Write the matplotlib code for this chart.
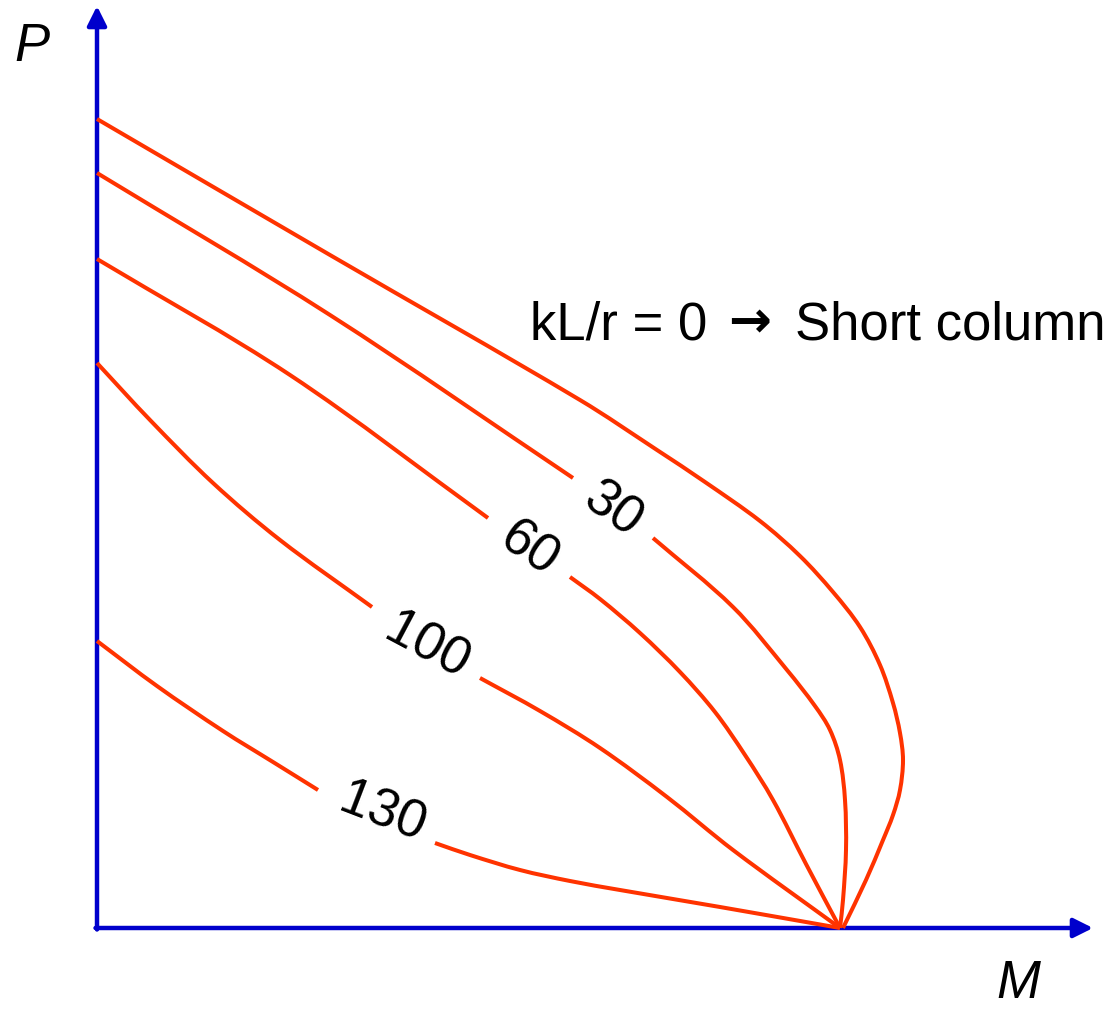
import numpy as np
import matplotlib
matplotlib.use('Agg')
import matplotlib.pyplot as plt
from matplotlib.path import Path
from matplotlib.patches import PathPatch

# Interaction curves (M, P) for several slenderness ratios kL/r.
# NaN marks the break in a line where its label sits.
nan = np.nan
M_0 = [0, 233, 483, 560, 608, 663, 703, 736, 763, 783, 796, 803, 806, 803,
       796, 786, 769, 746]
P_0 = [809, 673, 528, 478, 446, 407, 372, 336, 301, 263, 225, 195, 168, 138,
       113, 88, 48, 0]

M_30 = [0, 233, 476, nan, 556, 636, 690, 718, 733, 743, 748, 749, 746, 743]
P_30 = [755, 613, 450, nan, 390, 321, 258, 222, 198, 168, 128, 78, 28, 0]

M_60 = [0, 193, 391, nan, 473, 503, 543, 583, 618, 648, 676, 709, 743]
P_60 = [669, 553, 410, nan, 351, 329, 295, 256, 216, 173, 128, 64, 0]

M_100 = [0, 53, 116, 183, 275, nan, 383, 443, 503, 570, 636, 743]
P_100 = [565, 508, 445, 388, 321, nan, 250, 217, 180, 131, 78, 0]

M_130 = [0, 60, 126, 176, 221, nan, 338, 373, 423, 473, 523, 623, 743]
P_130 = [287, 242, 197, 166, 138, nan, 85, 73, 58, 47, 38, 21, 0]

curves = [(M_0, P_0), (M_30, P_30), (M_60, P_60), (M_100, P_100), (M_130, P_130)]

# inline labels: text, position, angle
labels = ['30', '60', '100', '130']
label_M = [515, 432, 330, 285]
label_P = [418, 379, 281, 115]
label_rot = [-35, -34, -28, -21]

red = '#ff3300'
blue = '#0000cc'
font = ['Liberation Sans', 'DejaVu Sans']


def unit(v):
    return v / np.hypot(*v)


def smooth_paths(m, p):
    """Cubic bezier path through the points, split at NaN."""
    pts = np.column_stack([m, p]).astype(float)
    breaks = np.where(np.isnan(pts[:, 0]))[0]
    paths = []
    for seg in np.split(pts, breaks):
        seg = seg[~np.isnan(seg[:, 0])]
        n = len(seg)
        if n < 2:
            continue
        # tangent direction at each point
        tan = [unit(seg[1] - seg[0])]
        for i in range(1, n - 1):
            tan.append(unit(seg[i + 1] - seg[i - 1]))
        tan.append(unit(seg[-1] - seg[-2]))
        verts = [seg[0]]
        codes = [Path.MOVETO]
        for i in range(n - 1):
            L = np.hypot(*(seg[i + 1] - seg[i])) / 3
            verts += [seg[i] + tan[i] * L, seg[i + 1] - tan[i + 1] * L, seg[i + 1]]
            codes += [Path.CURVE4] * 3
        paths.append(Path(verts, codes))
    return paths


fig = plt.figure(figsize=(11.1, 10.09), dpi=100)
ax = fig.add_axes([0, 0, 1, 1])
ax.set_xlim(-97, 1013)
ax.set_ylim(-81, 928)
ax.axis('off')

# axes with arrow heads
arrow = dict(arrowstyle='-|>,head_length=0.4,head_width=0.2', mutation_scale=29,
             lw=3.2, color=blue, shrinkA=0, shrinkB=0)
ax.annotate('', xy=(0, 922), xytext=(0, -1.5), arrowprops=arrow)
ax.annotate('', xy=(996, 0), xytext=(-1.5, 0), arrowprops=arrow)

for m, p in curves:
    for path in smooth_paths(m, p):
        ax.add_patch(PathPatch(path, fill=False, edgecolor=red, lw=2.9,
                               capstyle='butt', zorder=3))

for txt, m, p, r in zip(labels, label_M, label_P, label_rot):
    ax.text(m, p, txt, fontsize=38, family=font, rotation=r,
            rotation_mode='anchor', ha='center', va='center')

ax.text(433, 589, 'kL/r = 0', fontsize=38, family=font, ha='left', va='baseline')
ax.text(653, 605, '\u2192', fontsize=37, family='DejaVu Sans', weight='bold',
        ha='center', va='center')
ax.text(698, 589, 'Short column', fontsize=38, family=font, ha='left', va='baseline')
ax.text(-65, 881, 'P', fontsize=38, family=font, style='italic',
        ha='center', va='center')
ax.text(921, -56, 'M', fontsize=38, family=font, style='italic',
        ha='center', va='center')

fig.savefig('out.png', dpi=100)
